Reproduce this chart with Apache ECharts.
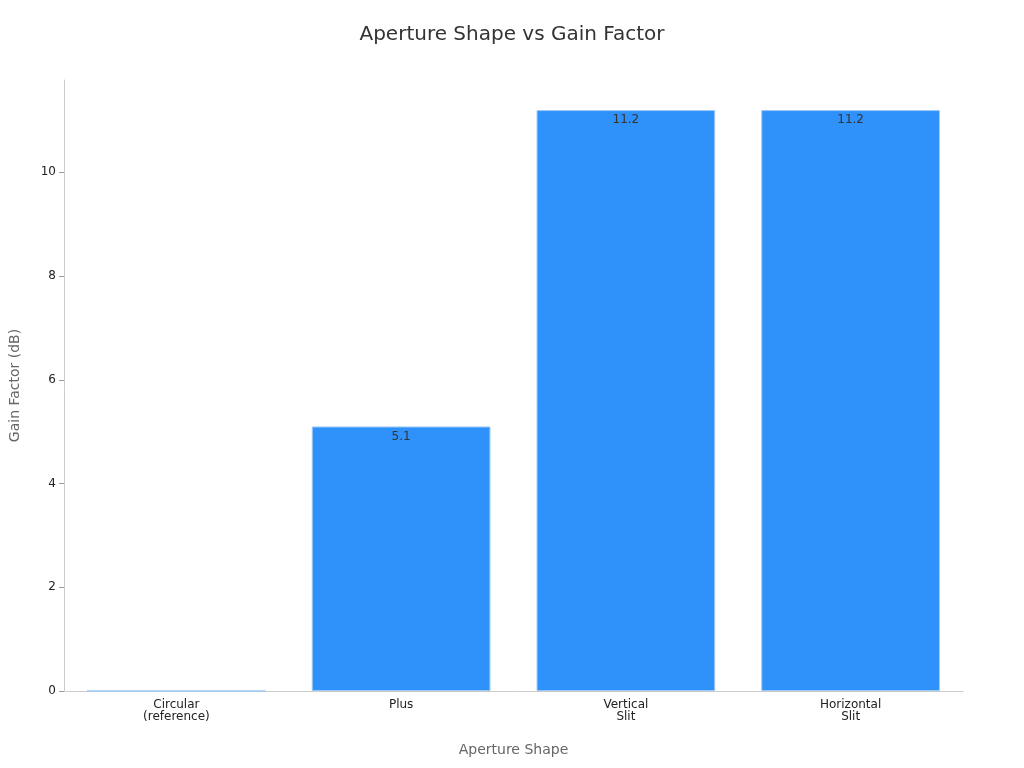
<!DOCTYPE html>
<html><head><meta charset="utf-8">
<script src="https://cdn.jsdelivr.net/npm/echarts@6/dist/echarts.min.js"></script>
<style>html,body{margin:0;padding:0;}#c{width:1024px;height:768px;}</style>
</head><body><div id="c"></div>
<script>
const categories = ["Circular\n(reference)", "Plus", "Vertical\nSlit", "Horizontal\nSlit"];
const gainValues = [0, 5.1, 11.2, 11.2];
const chart = echarts.init(document.getElementById('c'));
chart.setOption({
  textStyle: {fontFamily: "DejaVu Sans"},
  title: {text: "Aperture Shape vs Gain Factor", left: "center", top: 20,
    textStyle: {fontSize: 20, fontWeight: "normal", color: "#333", fontFamily: "DejaVu Sans"}},
  grid: {left: 60, right: 61, top: 80, bottom: 77},
  xAxis: {type: "category", data: categories, name: "Aperture Shape", nameLocation: "middle", nameGap: 52,
    nameTextStyle: {fontSize: 14, color: "#666"},
    axisLine: {lineStyle: {color: "#ccc"}}, axisTick: {alignWithLabel: true, lineStyle: {color: "#999"}},
    axisLabel: {color: "#222", fontSize: 12, interval: 0}},
  yAxis: {type: "value", min: 0, max: 11.78, interval: 2, name: "Gain Factor (dB)", nameLocation: "middle", nameGap: 42,
    nameTextStyle: {fontSize: 14, color: "#666"},
    axisLine: {show: true, lineStyle: {color: "#ccc"}}, axisTick: {show: true, lineStyle: {color: "#999"}},
    splitLine: {show: false}, axisLabel: {color: "#222", fontSize: 12, showMaxLabel: false}},
  series: [{type: "bar", data: gainValues, barWidth: "79.5%",
    itemStyle: {color: "#2f91fa", borderColor: "#9cc8f5", borderWidth: 1},
    label: {show: true, position: "insideTop", color: "#333", fontSize: 12, distance: 4,
      formatter: p => p.value === 0 ? "" : String(p.value)}}]
});
</script></body></html>
